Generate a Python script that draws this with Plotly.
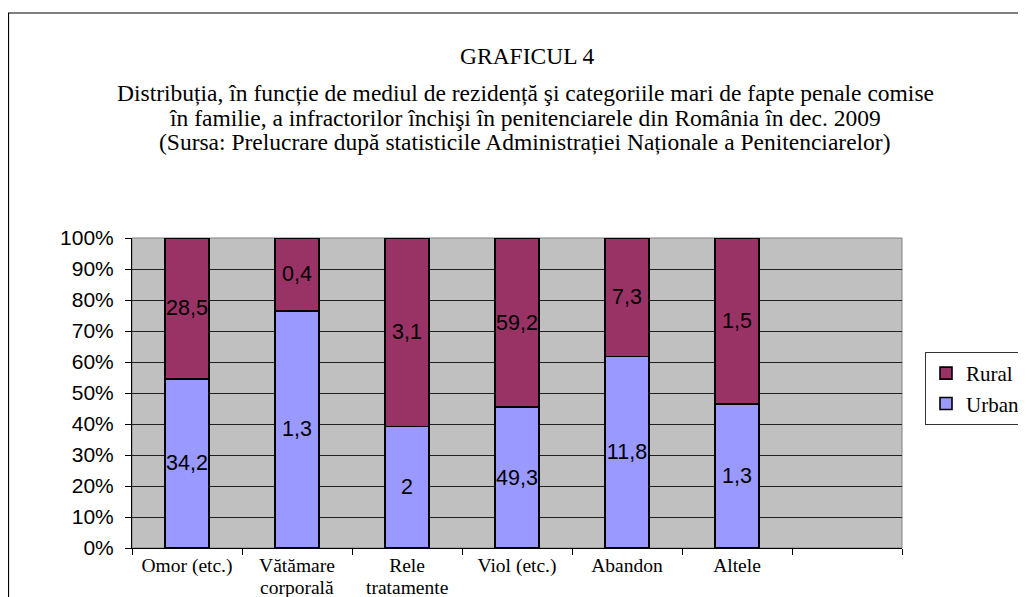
import plotly.graph_objects as go

categories = ["Omor (etc.)", "Vătămare corporală", "Rele tratamente",
              "Viol (etc.)", "Abandon", "Altele", " "]
label_line1 = ["Omor (etc.)", "Vătămare", "Rele", "Viol (etc.)", "Abandon", "Altele", ""]
label_line2 = ["", "corporală", "tratamente", "", "", "", ""]
urban = [34.2, 1.3, 2, 49.3, 11.8, 1.3, None]
rural = [28.5, 0.4, 3.1, 59.2, 7.3, 1.5, None]
y_ticks = [0, 10, 20, 30, 40, 50, 60, 70, 80, 90, 100]
y_tick_text = [f"{v}%" for v in y_ticks]

title_main = "GRAFICUL 4"
subtitle_lines = [
    "Distribuția, în funcție de mediul de rezidență şi categoriile mari de fapte penale comise",
    "în familie, a infractorilor închişi în penitenciarele din România în dec. 2009",
    "(Sursa: Prelucrare după statisticile Administrației Naționale a Penitenciarelor)",
]

def fmt(v):
    return "" if v is None else f"{v:g}".replace(".", ",")

SERIF = "Liberation Serif, Times New Roman, serif"
SANS = "Liberation Sans, Arial, sans-serif"

W, H = 1026, 597
L, R, T, B = 124, 132, 230, 57
pw, ph = W - L - R, H - T - B

def px_x(x):
    return (x - L) / pw

def px_y(y):
    return (H - B - y) / ph

fig = go.Figure()
for name, vals, color in [("Urban", urban, "#9999FF"), ("Rural", rural, "#993366")]:
    fig.add_trace(go.Bar(
        x=categories, y=vals, name=name,
        marker=dict(color=color, line=dict(color="black", width=1.6)),
        text=[fmt(v) for v in vals], textposition="inside",
        insidetextanchor="middle", textangle=0,
        textfont=dict(family=SANS, size=21.5, color="black"),
        width=0.4,
    ))

fig.update_layout(
    width=W, height=H,
    margin=dict(l=L, r=R, t=T, b=B, autoexpand=False),
    barmode="stack", barnorm="percent",
    paper_bgcolor="white", plot_bgcolor="#C0C0C0",
    uniformtext=dict(mode="show", minsize=21),
    hovermode=False,
    showlegend=True,
    legend=dict(
        x=px_x(917), y=px_y(344), xanchor="left", yanchor="top",
        bgcolor="white", bordercolor="#333333", borderwidth=1,
        font=dict(family=SERIF, size=21, color="black"),
        traceorder="reversed", itemwidth=30,
    ),
    xaxis=dict(
        type="category", categoryorder="array", categoryarray=categories,
        tickvals=categories, ticktext=label_line1,
        range=[-0.5, 6.5], tickson="boundaries", ticks="outside", ticklen=6,
        tickcolor="black", showline=True, linecolor="black", linewidth=1,
        showgrid=False, automargin=False,
        tickfont=dict(family=SERIF, size=19.5, color="black"),
    ),
    yaxis=dict(
        range=[0, 100], tickvals=y_ticks, ticktext=y_tick_text, ticks="outside", ticklen=6,
        tickcolor="black", showline=True, linecolor="black", linewidth=1,
        showgrid=True, gridcolor="#202020", gridwidth=1, zeroline=False, automargin=False,
        ticklabelstandoff=7,
        tickfont=dict(family=SANS, size=21, color="black"),
    ),
)

# second lines of the two-line category labels
for cat, txt in zip(categories, label_line2):
    if txt:
        fig.add_annotation(text=txt, xref="x", yref="paper", x=cat, y=px_y(579),
                           xanchor="center", yanchor="middle", showarrow=False,
                           font=dict(family=SERIF, size=19.5, color="black"))

# plot-area border and outer chart frame
fig.add_shape(type="rect", xref="paper", yref="paper", x0=0, x1=1, y0=0, y1=1,
              line=dict(color="#808080", width=1), layer="below")
fig.add_shape(type="rect", xref="paper", yref="paper",
              x0=px_x(0.5), x1=px_x(1040), y0=px_y(610), y1=px_y(5),
              line=dict(color="black", width=1.2))

cx = px_x(517)
fig.add_annotation(text=title_main, xref="paper", yref="paper", x=px_x(519), y=px_y(48),
                   xanchor="center", yanchor="middle", showarrow=False,
                   font=dict(family=SERIF, size=23.5, color="black"))
for i, line in enumerate(subtitle_lines):
    fig.add_annotation(text=line, xref="paper", yref="paper", x=cx, y=px_y(85 + 24.5 * i),
                       xanchor="center", yanchor="middle", showarrow=False,
                       font=dict(family=SERIF, size=23.5, color="black"))

fig.write_html("out.html")
